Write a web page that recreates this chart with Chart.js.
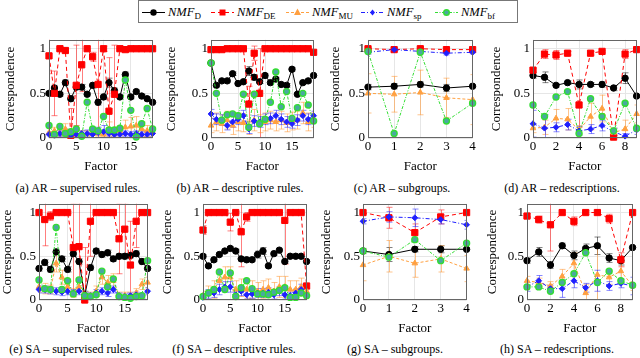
<!DOCTYPE html>
<html><head><meta charset="utf-8">
<script src="https://cdn.jsdelivr.net/npm/chart.js@4.4.0/dist/chart.umd.min.js"></script>
<style>
body{margin:0;background:#fff;}
#wrap{position:relative;width:640px;height:358px;overflow:hidden;font-family:"Liberation Serif","DejaVu Serif",serif;color:#000;background:#fff;}
canvas{position:absolute;}
.cap{position:absolute;font-size:12px;white-space:nowrap;transform:translate(-50%,-50%);}
#legend{position:absolute;left:138px;top:0px;width:380px;height:23px;border:1px solid #777;box-sizing:border-box;}
.li{position:absolute;top:3px;height:16px;font-size:12.5px;line-height:16px;white-space:nowrap;}
.li i{font-style:italic;}
.li sub{font-size:9px;vertical-align:-3px;line-height:0;}
.li svg{position:absolute;top:3px;}
</style></head>
<body><div id="wrap"><div id="legend"></div></div>
<script>
// ---------- categories / ticks ----------
const factors20 = [0,1,2,3,4,5,6,7,8,9,10,11,12,13,14,15,16,17,18,19];
const factors5  = [0,1,2,3,4];
const factors10 = [0,1,2,3,4,5,6,7,8,9];
const ticks20 = [0,5,10,15];
const ticks5  = [0,1,2,3,4];
const ticks10 = [0,2,4,6,8];
const yTicks  = [0,0.5,1];
const seriesNames = ['D','DE','MU','sp','bf'];
const captions = ['(a) AR – supervised rules.','(b) AR – descriptive rules.','(c) AR – subgroups.','(d) AR – redescriptions.',
                  '(e) SA – supervised rules.','(f) SA – descriptive rules.','(g) SA – subgroups.','(h) SA – redescriptions.'];

// ---------- (a) AR supervised rules ----------
const aD   = [0.50,0.56,0.49,0.62,0.44,0.57,0.57,0.49,0.59,0.40,0.46,0.62,0.53,0.46,0.71,0.46,0.52,0.47,0.44,0.40];
const aDE  = [0.92,0.50,1.00,0.98,0.03,0.59,0.82,1.00,0.91,0.60,1.00,0.30,0.49,1.00,0.99,1.00,1.00,1.00,1.00,1.00];
const aMU  = [0.06,0.08,0.05,0.10,0.04,0.05,0.05,0.05,0.06,0.05,0.04,0.10,0.05,0.08,0.12,0.13,0.14,0.10,0.08,0.07];
const aSP  = [0.04,0.03,0.05,0.05,0.03,0.04,0.05,0.05,0.04,0.06,0.07,0.05,0.04,0.04,0.05,0.04,0.05,0.04,0.04,0.05];
const aBF  = [0.14,0.04,0.13,0.05,0.07,0.10,0.02,0.40,0.10,0.08,0.24,0.09,0.09,0.11,0.65,0.31,0.01,0.16,0.33,0.10];
const aDerr  = [0.03,0.03,0.02,0.03,0.03,0.03,0.03,0.02,0.03,0.03,0.03,0.05,0.03,0.02,0.03,0.02,0.02,0.02,0.02,0.02];
const aDEerr = [0.20,0.25,0.03,0.03,0.30,0.45,0.30,0.03,0.05,0.55,0.03,0.60,0.55,0.03,0.01,0.01,0.01,0.01,0.01,0.01];
const aMUerr = [0.05,0.04,0.03,0.06,0.03,0.03,0.03,0.03,0.03,0.03,0.03,0.08,0.04,0.05,0.08,0.10,0.10,0.08,0.06,0.05];
const aSPerr = [0.03,0.03,0.03,0.05,0.03,0.04,0.03,0.04,0.04,0.06,0.07,0.04,0.03,0.03,0.03,0.03,0.03,0.03,0.03,0.03];

// ---------- (b) AR descriptive rules ----------
const bD   = [0.84,0.59,0.64,0.64,0.72,0.61,0.63,0.75,0.68,0.63,0.70,0.62,0.66,0.60,0.59,0.77,0.49,0.62,0.64,0.70];
const bDE  = [0.99,0.99,0.99,1.00,1.00,1.00,1.00,0.38,0.95,0.50,1.00,1.00,1.00,1.00,1.00,1.00,1.00,1.00,1.00,0.96];
const bMU  = [0.14,0.18,0.16,0.20,0.14,0.18,0.17,0.12,0.20,0.16,0.18,0.20,0.18,0.20,0.17,0.19,0.20,0.28,0.18,0.20];
const bSP  = [0.27,0.21,0.20,0.14,0.18,0.21,0.25,0.10,0.19,0.18,0.21,0.22,0.25,0.21,0.18,0.16,0.20,0.25,0.21,0.25];
const bBF  = [0.84,0.50,0.20,0.26,0.27,0.25,0.49,0.12,0.49,0.16,0.21,0.40,0.74,0.35,0.52,0.22,0.34,0.50,0.37,0.19];
const bDerr  = [0.02,0.02,0.02,0.02,0.02,0.02,0.02,0.05,0.03,0.02,0.02,0.02,0.02,0.02,0.02,0.02,0.02,0.02,0.02,0.02];
const bDEerr = [0.02,0.01,0.01,0.01,0.01,0.01,0.01,0.20,0.08,0.50,0.01,0.01,0.01,0.01,0.01,0.01,0.01,0.01,0.01,0.02];
const bMUerr = [0.08,0.10,0.10,0.10,0.10,0.10,0.10,0.08,0.12,0.10,0.10,0.10,0.10,0.10,0.10,0.10,0.10,0.12,0.10,0.08];
const bSPerr = [0.05,0.06,0.06,0.05,0.06,0.06,0.06,0.05,0.06,0.06,0.06,0.06,0.06,0.06,0.06,0.05,0.06,0.06,0.06,0.05];

// ---------- (c) AR subgroups ----------
const cD   = [0.57,0.58,0.60,0.56,0.58];
const cDE  = [1.00,0.99,1.00,0.99,0.99];
const cMU  = [0.50,0.49,0.51,0.45,0.43];
const cSP  = [0.96,0.99,0.97,0.95,0.96];
const cBF  = [0.97,0.05,0.96,0.19,0.39];
const cDerr  = [0.03,0.03,0.03,0.04,0.03];
const cDEerr = [0.01,0.01,0.01,0.01,0.01];
const cMUerr = [0.22,0.20,0.25,0.22,0.28];
const cSPerr = [0.02,0.02,0.02,0.02,0.02];

// ---------- (d) AR redescriptions ----------
const dD   = [0.70,0.68,0.59,0.62,0.60,0.60,0.60,0.56,0.67,0.47];
const dDE  = [0.76,0.94,0.93,0.95,0.37,0.95,0.97,0.01,0.94,0.99];
const dMU  = [0.11,0.12,0.22,0.21,0.09,0.24,0.33,0.06,0.10,0.27];
const dSP  = [0.16,0.11,0.12,0.15,0.08,0.10,0.14,0.07,0.02,0.09];
const dBF  = [0.37,0.24,0.46,0.52,0.05,0.44,0.24,0.08,0.39,0.11];
const dDerr  = [0.03,0.06,0.02,0.02,0.05,0.02,0.03,0.03,0.06,0.02];
const dDEerr = [0.02,0.05,0.05,0.02,0.25,0.02,0.01,0.02,0.05,0.01];
const dMUerr = [0.05,0.08,0.10,0.12,0.05,0.15,0.15,0.05,0.10,0.10];
const dSPerr = [0.15,0.15,0.05,0.06,0.05,0.05,0.06,0.04,0.03,0.05];

// ---------- (e) SA supervised rules ----------
const eD   = [0.36,0.43,0.35,0.55,0.47,0.35,0.53,0.44,0.05,0.37,0.56,0.52,0.54,0.47,0.50,0.50,0.51,0.53,0.44,0.36];
const eDE  = [1.00,0.92,0.96,1.00,1.00,1.00,0.60,0.61,0.00,0.90,1.00,1.00,1.00,1.00,0.70,0.81,0.40,0.90,1.00,1.00];
const eMU  = [0.15,0.13,0.12,0.42,0.26,0.15,0.08,0.15,0.03,0.05,0.10,0.26,0.20,0.22,0.05,0.05,0.05,0.08,0.18,0.20];
const eSP  = [0.12,0.12,0.11,0.10,0.09,0.10,0.08,0.10,0.05,0.05,0.08,0.10,0.08,0.12,0.05,0.04,0.05,0.06,0.05,0.10];
const eBF  = [0.23,0.13,0.12,0.83,0.12,0.22,0.07,0.23,0.05,0.04,0.06,0.33,0.15,0.24,0.04,0.03,0.02,0.04,0.05,0.45];
const eDerr  = [0.03,0.03,0.03,0.03,0.03,0.03,0.03,0.03,0.05,0.03,0.03,0.03,0.03,0.03,0.03,0.03,0.03,0.03,0.03,0.03];
const eDEerr = [0.02,0.30,0.05,0.02,0.01,0.01,0.50,0.50,0.60,0.40,0.02,0.01,0.01,0.01,0.40,0.30,0.50,0.30,0.02,0.02];
const eMUerr = [0.06,0.06,0.05,0.10,0.08,0.06,0.05,0.06,0.03,0.04,0.06,0.08,0.08,0.08,0.04,0.04,0.04,0.05,0.06,0.06];
const eSPerr = [0.04,0.04,0.04,0.04,0.04,0.04,0.04,0.04,0.03,0.03,0.04,0.04,0.04,0.04,0.03,0.03,0.03,0.03,0.03,0.04];

// ---------- (f) SA descriptive rules ----------
const fD   = [0.50,0.39,0.46,0.52,0.56,0.59,0.56,0.47,0.46,0.46,0.52,0.56,0.39,0.53,0.57,0.44,0.50,0.50,0.50,0.44];
const fDE  = [0.80,1.00,1.00,1.00,1.00,0.89,1.00,0.78,0.95,1.00,1.00,1.00,1.00,1.00,1.00,0.91,1.00,1.00,1.00,0.16];
const fMU  = [0.05,0.08,0.12,0.22,0.26,0.26,0.12,0.14,0.12,0.12,0.10,0.12,0.14,0.10,0.15,0.15,0.12,0.12,0.15,0.10];
const fSP  = [0.03,0.07,0.08,0.12,0.15,0.15,0.06,0.10,0.06,0.07,0.08,0.08,0.09,0.06,0.10,0.06,0.05,0.08,0.12,0.05];
const fBF  = [0.04,0.08,0.12,0.32,0.12,0.31,0.04,0.14,0.22,0.13,0.07,0.07,0.06,0.09,0.11,0.14,0.03,0.03,0.08,0.05];
const fDerr  = [0.02,0.02,0.02,0.02,0.02,0.02,0.02,0.02,0.02,0.02,0.04,0.04,0.02,0.02,0.02,0.02,0.02,0.02,0.02,0.02];
const fDEerr = [0.05,0.01,0.01,0.01,0.02,0.10,0.01,0.40,0.05,0.01,0.01,0.01,0.01,0.01,0.01,0.50,0.01,0.01,0.01,0.30];
const fMUerr = [0.05,0.08,0.10,0.10,0.12,0.12,0.10,0.10,0.10,0.10,0.10,0.10,0.10,0.10,0.12,0.12,0.10,0.10,0.10,0.08];
const fSPerr = [0.03,0.05,0.05,0.06,0.06,0.06,0.05,0.05,0.05,0.05,0.05,0.05,0.05,0.05,0.05,0.05,0.04,0.05,0.06,0.04];

// ---------- (g) SA subgroups ----------
const gD   = [0.56,0.52,0.58,0.58,0.58];
const gDE  = [1.00,0.94,0.77,0.95,1.00];
const gMU  = [0.40,0.50,0.42,0.47,0.36];
const gSP  = [0.90,0.95,0.94,0.92,0.86];
const gBF  = [0.56,0.49,0.69,0.45,0.65];
const gDerr  = [0.03,0.08,0.03,0.04,0.03];
const gDEerr = [0.02,0.12,0.10,0.08,0.02];
const gMUerr = [0.18,0.18,0.16,0.15,0.15];
const gSPerr = [0.03,0.06,0.10,0.05,0.05];

// ---------- (h) SA redescriptions ----------
const hD   = [0.45,0.55,0.40,0.62,0.51,0.59,0.62,0.48,0.45,0.60];
const hDE  = [0.96,0.92,0.86,1.00,0.90,1.00,1.00,0.93,0.46,1.00];
const hMU  = [0.22,0.20,0.16,0.27,0.42,0.08,0.29,0.26,0.33,0.16];
const hSP  = [0.15,0.22,0.13,0.13,0.22,0.14,0.22,0.16,0.19,0.16];
const hBF  = [0.15,0.15,0.10,0.20,0.30,0.54,0.20,0.33,0.22,0.17];
const hDerr  = [0.03,0.05,0.04,0.03,0.05,0.05,0.10,0.05,0.05,0.03];
const hDEerr = [0.03,0.04,0.30,0.02,0.05,0.02,0.02,0.05,0.08,0.02];
const hMUerr = [0.05,0.05,0.05,0.08,0.12,0.10,0.35,0.08,0.10,0.05];
const hSPerr = [0.05,0.06,0.04,0.10,0.08,0.05,0.12,0.05,0.05,0.10];

// ---------- styling / layout (not data) ----------
const FAMILY = '"Liberation Serif","DejaVu Serif",serif';
const styles = [
  {color:'#000000', err:'rgba(0,0,0,0.5)',       dash:[],           point:'circle',  r:3.2, fill:'#000000', order:5},
  {color:'#ff0000', err:'rgba(255,0,0,0.5)',     dash:[4,3],        point:'rect',    r:4.4, fill:'#ff0000', order:4},
  {color:'#ffa040', err:'rgba(255,150,50,0.55)', dash:[3,2],        point:'triangle',r:3.2, fill:'#ffa040', order:3},
  {color:'#2020ff', err:'rgba(40,40,255,0.55)',  dash:[4,2,1,2],    point:'rectRot', r:2.9, fill:'#2020ff', order:2},
  {color:'#33dd33', err:'rgba(50,220,50,0.55)',  dash:[3,1.5,1,1.5],point:'circle',  r:3.0, fill:'#4aa8a0', order:1}
];
const panels = [
  {cats:factors20, xt:ticks20, s:[aD,aDE,aMU,aSP,aBF], e:[aDerr,aDEerr,aMUerr,aSPerr], L:49,  R:153, T:35,  B:138, tc:11,  cx:78,  cy:188},
  {cats:factors20, xt:ticks20, s:[bD,bDE,bMU,bSP,bBF], e:[bDerr,bDEerr,bMUerr,bSPerr], L:211, R:314, T:35,  B:138, tc:172, cx:240, cy:188},
  {cats:factors5,  xt:ticks5,  s:[cD,cDE,cMU,cSP,cBF], e:[cDerr,cDEerr,cMUerr,cSPerr], L:368, R:473, T:35,  B:138, tc:336, cx:402, cy:188},
  {cats:factors10, xt:ticks10, s:[dD,dDE,dMU,dSP,dBF], e:[dDerr,dDEerr,dMUerr,dSPerr], L:533, R:637, T:35,  B:138, tc:497, cx:562, cy:188},
  {cats:factors20, xt:ticks20, s:[eD,eDE,eMU,eSP,eBF], e:[eDerr,eDEerr,eMUerr,eSPerr], L:39,  R:148, T:199, B:300, tc:8,   cx:71,  cy:349},
  {cats:factors20, xt:ticks20, s:[fD,fDE,fMU,fSP,fBF], e:[fDerr,fDEerr,fMUerr,fSPerr], L:203, R:307, T:199, B:300, tc:168, cx:234, cy:349},
  {cats:factors5,  xt:ticks5,  s:[gD,gDE,gMU,gSP,gBF], e:[gDerr,gDEerr,gMUerr,gSPerr], L:363, R:467, T:199, B:300, tc:327, cx:395, cy:349},
  {cats:factors10, xt:ticks10, s:[hD,hDE,hMU,hSP,hBF], e:[hDerr,hDEerr,hMUerr,hSPerr], L:527, R:633, T:199, B:300, tc:493, cx:557, cy:349}
];

Chart.defaults.font.family = FAMILY;
Chart.defaults.color = '#000';

const errPlugin = {
  id:'errbars',
  beforeDatasetsDraw(chart){
    const {ctx, chartArea:a, scales:{x,y}} = chart;
    ctx.save();
    ctx.beginPath(); ctx.rect(a.left, a.top, a.right-a.left, a.bottom-a.top); ctx.clip();
    chart.data.datasets.forEach(ds=>{
      if(!ds.errors) return;
      ctx.strokeStyle = ds.errColor; ctx.lineWidth = 1; ctx.setLineDash([]);
      ds.data.forEach((p,i)=>{
        const e = ds.errors[i]; if(!e) return;
        const px = Math.round(x.getPixelForValue(p.x))+0.5;
        const y1 = y.getPixelForValue(p.y+e), y2 = y.getPixelForValue(p.y-e);
        ctx.beginPath();
        ctx.moveTo(px,y1); ctx.lineTo(px,y2);
        ctx.moveTo(px-3,y1); ctx.lineTo(px+3,y1);
        ctx.moveTo(px-3,y2); ctx.lineTo(px+3,y2);
        ctx.stroke();
      });
    });
    ctx.restore();
  },
  afterDraw(chart){
    const {ctx, chartArea:a} = chart;
    ctx.save(); ctx.strokeStyle = '#666'; ctx.lineWidth = 1; ctx.setLineDash([]);
    ctx.strokeRect(Math.round(a.left)+0.5, Math.round(a.top)+0.5, Math.round(a.right-a.left)-1, Math.round(a.bottom-a.top)-1);
    ctx.restore();
  }
};

const wrap = document.getElementById('wrap');
panels.forEach((p,pi)=>{
  const cl = p.tc - 10, ct = p.T - 6;
  const yw = p.L - cl, xh = 36;
  const w = (p.R - cl) + 5, h = (p.B - ct) + xh;
  const cv = document.createElement('canvas');
  cv.width = w; cv.height = h;
  cv.style.left = cl+'px'; cv.style.top = ct+'px';
  cv.style.width = w+'px'; cv.style.height = h+'px';
  wrap.appendChild(cv);
  const cap = document.createElement('div');
  cap.className = 'cap'; cap.textContent = captions[pi];
  cap.style.left = p.cx+'px'; cap.style.top = p.cy+'px';
  wrap.appendChild(cap);
  const datasets = p.s.map((vals,si)=>{
    const st = styles[si];
    return {
      label: 'NMF_'+seriesNames[si],
      data: vals.map((v,i)=>({x:p.cats[i], y:v})),
      errors: si < 4 ? p.e[si] : null,
      errColor: st.err,
      borderColor: st.color, borderWidth: 1, borderDash: st.dash,
      backgroundColor: st.fill,
      pointStyle: st.point, pointRadius: st.r,
      pointBackgroundColor: st.fill,
      pointBorderColor: st.color, pointBorderWidth: si===4 ? 1.4 : 1,
      tension: 0, clip: false, order: st.order
    };
  });
  new Chart(cv.getContext('2d'), {
    type:'line',
    data:{datasets},
    plugins:[errPlugin],
    options:{
      responsive:false, animation:false, devicePixelRatio:1,
      layout:{padding:{top:6, right:5, left:0, bottom:0}},
      plugins:{legend:{display:false}, tooltip:{enabled:false}},
      scales:{
        x:{type:'linear', min:0, max:p.cats[p.cats.length-1],
           afterFit(s){ s.height = xh; },
           afterBuildTicks(s){ s.ticks = p.xt.map(v=>({value:v})); },
           ticks:{font:{family:FAMILY, size:13}, color:'#000', padding:1, maxRotation:0, autoSkip:false},
           grid:{color:'#e6e6e6', drawTicks:false},
           border:{display:false},
           title:{display:true, text:'Factor', font:{family:FAMILY, size:13, weight:'normal', lineHeight:1.2}, color:'#000', padding:{top:0,bottom:0}}},
        y:{min:0, max:1.1,
           afterFit(s){ s.width = yw; },
           afterBuildTicks(s){ s.ticks = yTicks.map(v=>({value:v})); },
           ticks:{font:{family:FAMILY, size:13}, color:'#000', padding:3, callback:v=>String(v)},
           grid:{color:'#e6e6e6', drawTicks:false},
           border:{display:false},
           title:{display:true, text:'Correspondence', font:{family:FAMILY, size:13, weight:'normal', lineHeight:1.2}, color:'#000', padding:{top:2,bottom:0}}}
      }
    }
  });
});

// ---------- legend ----------
const leg = document.getElementById('legend');
const legLineX = [3, 72, 147, 222, 296];
const svgPt = (si)=>{
  const st = styles[si];
  const c = st.color, f = st.fill;
  if(st.point==='rect') return `<rect x="8.5" y="2.5" width="6" height="6" fill="${f}"/>`;
  if(st.point==='triangle') return `<polygon points="11.5,1.5 15,8 8,8" fill="${f}"/>`;
  if(st.point==='rectRot') return `<polygon points="11.5,2.5 14,5.5 11.5,8.5 9,5.5" fill="${f}"/>`;
  if(si===4) return `<circle cx="11.5" cy="5.5" r="2.8" fill="${f}" stroke="${c}" stroke-width="1.4"/>`;
  return `<circle cx="11.5" cy="5.5" r="3.2" fill="${f}"/>`;
};
seriesNames.forEach((n,si)=>{
  const st = styles[si];
  const d = document.createElement('div');
  d.className = 'li';
  d.style.left = legLineX[si]+'px';
  d.innerHTML = `<svg width="23" height="11" style="left:0"><line x1="0" y1="5.5" x2="23" y2="5.5" stroke="${st.color}" stroke-width="1" stroke-dasharray="${st.dash.join(',')||'none'}"/>${svgPt(si)}</svg>`+
                `<span style="position:absolute;left:26px;top:0"><i>NMF</i><sub>${n}</sub></span>`;
  leg.appendChild(d);
});
</script></body></html>
